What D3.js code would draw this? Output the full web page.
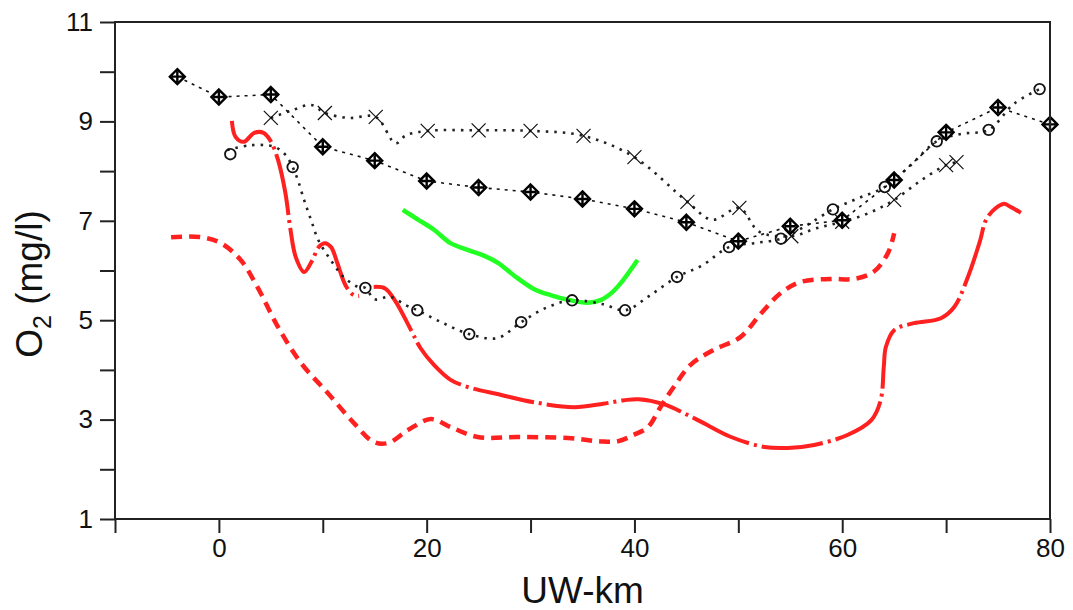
<!DOCTYPE html>
<html>
<head>
<meta charset="utf-8">
<script src="https://cdn.jsdelivr.net/npm/d3@7"></script>
<style>
  body { margin: 0; background: #fff; }
  svg { display: block; }
  .axis text { font-family: "Liberation Sans", Arial, sans-serif; font-size: 26px; fill: #111; }
  .axis line { stroke: #222; stroke-width: 2; }
  .title { font-family: "Liberation Sans", Arial, sans-serif; font-size: 37px; fill: #111; }
</style>
</head>
<body>
<div id="wrapper"></div>
<script>
// diamond-with-cross stations, fine dashed line
const diamondKm = [-4, 0, 5, 10, 15, 20, 25, 30, 35, 40, 45, 50, 55, 60, 65, 70, 75, 80];
const diamondO2 = [9.9, 9.49, 9.54, 8.49, 8.21, 7.8, 7.67, 7.58, 7.44, 7.24, 6.97, 6.59, 6.89, 7.01, 7.82, 8.78, 9.28, 8.94];

// x-marker stations and their dotted trace
const crossKm = [5, 10.2, 15.1, 20.1, 25, 30, 35.1, 40, 45.1, 50.1, 55.1, 60, 65, 70, 71];
const crossO2 = [9.07, 9.17, 9.09, 8.81, 8.82, 8.81, 8.71, 8.28, 7.38, 7.26, 6.69, 6.98, 7.42, 8.12, 8.18];
const crossLineKm = [5, 7, 8.9, 10.2, 12.5, 15.1, 17, 18, 20.1, 25, 30, 35.1, 40, 45.1, 47.5, 50.1, 52, 55.1, 57.5, 60, 62.5, 65, 67.5, 70, 71];
const crossLineO2 = [9.07, 9.22, 9.33, 9.17, 9.07, 9.09, 8.56, 8.72, 8.81, 8.82, 8.81, 8.71, 8.28, 7.38, 7.02, 7.26, 6.78, 6.69, 6.85, 6.98, 7.15, 7.42, 7.8, 8.12, 8.18];

// circle stations and their dotted trace
const circleKm = [1.1, 7.1, 14.1, 19.1, 24.1, 29.1, 34, 39.1, 44.1, 49.1, 54.1, 59.1, 64.1, 69.1, 74.1, 79];
const circleO2 = [8.34, 8.08, 5.65, 5.2, 4.72, 4.96, 5.4, 5.2, 5.87, 6.47, 6.64, 7.23, 7.68, 8.6, 8.83, 9.65];
const circleLineKm = [0.8, 3, 5.3, 6.4, 7.1, 7.6, 8.2, 8.9, 9.6, 10.8, 12, 13.4, 14.1, 15, 16.5, 18, 19.1, 21.5, 24.1, 26.8, 29.1, 31.5, 34, 37, 39.1, 41.5, 44.1, 46.5, 49.1, 51.5, 54.1, 56.5, 59.1, 61.5, 64.1, 66.5, 69.1, 71.5, 74.1, 76.5, 79];
const circleLineO2 = [8.42, 8.52, 8.49, 8.33, 8.08, 7.82, 7.42, 7.0, 6.6, 6.2, 5.87, 5.67, 5.65, 5.42, 5.47, 5.3, 5.2, 4.95, 4.72, 4.64, 4.96, 5.25, 5.4, 5.32, 5.2, 5.5, 5.87, 6.1, 6.47, 6.55, 6.64, 6.9, 7.23, 7.45, 7.68, 8.1, 8.6, 8.75, 8.83, 9.35, 9.65];

// red dash-dot profile (two pieces)
const redDotKmA = [1.25, 1.6, 2.4, 3.4, 4.3, 5.0, 5.7, 6.4, 6.9, 7.4, 8.2, 9.0, 9.6, 10.2, 10.8, 11.4, 12.2, 13.0, 13.5];
const redDotO2A = [9.01, 8.69, 8.59, 8.77, 8.77, 8.6, 8.22, 7.56, 6.81, 6.27, 5.97, 6.21, 6.47, 6.55, 6.47, 6.15, 5.7, 5.5, 5.49];
const redDotKmB = [14.9, 16, 17, 18.5, 19.4, 20.7, 22.3, 23.9, 27.1, 30.3, 34.2, 37, 39, 40.4, 42.8, 46.1, 49.3, 52.5, 54.8, 57.3, 60.5, 62.8, 63.7, 64, 64.2, 65, 66.9, 69.5, 70.8, 72.1, 73.2, 74, 75.5, 76.2, 77.2];
const redDotO2B = [5.67, 5.64, 5.38, 4.8, 4.44, 4.1, 3.8, 3.66, 3.5, 3.35, 3.25, 3.32, 3.39, 3.41, 3.31, 2.99, 2.65, 2.45, 2.43, 2.49, 2.69, 2.99, 3.39, 4.06, 4.46, 4.8, 4.94, 5.04, 5.27, 5.87, 6.55, 7.08, 7.34, 7.28, 7.16];

// red dashed profile
const redDashKm = [-4.6, -1.7, 0.2, 2.1, 3.7, 5.7, 7.9, 10.5, 13, 14.9, 16.3, 18.2, 20.4, 22.3, 24.9, 28.8, 33.6, 36.8, 38.5, 39.9, 41.3, 42.5, 43.8, 45.4, 47.6, 50.2, 52.2, 54.1, 56, 58.9, 61.1, 63, 64.4, 65];
const redDashO2 = [6.67, 6.67, 6.55, 6.21, 5.67, 4.86, 4.14, 3.53, 2.93, 2.55, 2.53, 2.79, 3.01, 2.85, 2.65, 2.65, 2.63, 2.56, 2.57, 2.69, 2.85, 3.25, 3.66, 4.1, 4.4, 4.66, 5.14, 5.55, 5.77, 5.83, 5.83, 5.97, 6.35, 6.75];

// green solid profile
const greenKm = [17.7, 19.2, 20.7, 22.3, 24, 25.5, 26.9, 28.4, 30.3, 32, 33.6, 35.5, 36.8, 37.8, 38.7, 40.3];
const greenO2 = [7.22, 7.02, 6.82, 6.55, 6.41, 6.3, 6.15, 5.9, 5.63, 5.5, 5.41, 5.35, 5.41, 5.55, 5.75, 6.21];

const xTicks = [-10, 0, 10, 20, 30, 40, 50, 60, 70, 80];
const xLabels = [0, 20, 40, 60, 80];
const yTicks = [1, 2, 3, 4, 5, 6, 7, 8, 9, 10, 11];
const yLabels = [1, 3, 5, 7, 9, 11];

const zip = (xs, ys) => xs.map((x, i) => ({ x, y: ys[i] }));

const dimensions = {
    width: 1073,
    height: 610,
    margin: { top: 22, right: 23, bottom: 91, left: 115 }
};
dimensions.boundWidth = dimensions.width - dimensions.margin.left - dimensions.margin.right;
dimensions.boundHeight = dimensions.height - dimensions.margin.top - dimensions.margin.bottom;

const svg = d3.select('#wrapper')
    .append('svg')
    .attr('width', dimensions.width)
    .attr('height', dimensions.height);

const bounds = svg.append('g')
    .attr('transform', `translate(${dimensions.margin.left},${dimensions.margin.top})`);

const xScale = d3.scaleLinear().domain([-10, 80]).range([0, dimensions.boundWidth]);
const yScale = d3.scaleLinear().domain([1, 11]).range([dimensions.boundHeight, 0]);

const smooth = d3.line().x(d => xScale(d.x)).y(d => yScale(d.y)).curve(d3.curveCatmullRom.alpha(0.5));
const straight = d3.line().x(d => xScale(d.x)).y(d => yScale(d.y));

const plot = bounds.append('g');

// red dashed
plot.append('path')
    .attr('d', smooth(zip(redDashKm, redDashO2)))
    .attr('fill', 'none').attr('stroke', '#ff2020').attr('stroke-width', 4.5)
    .attr('stroke-dasharray', '11,7');

// red dash-dot
[zip(redDotKmA, redDotO2A), zip(redDotKmB, redDotO2B)].forEach(seg => {
    plot.append('path')
        .attr('d', smooth(seg))
        .attr('fill', 'none').attr('stroke', '#ff2020').attr('stroke-width', 4)
        .attr('stroke-dasharray', '62,5,3,5');
});

// green
plot.append('path')
    .attr('d', smooth(zip(greenKm, greenO2)))
    .attr('fill', 'none').attr('stroke', '#22ff22').attr('stroke-width', 4.5);

// circle series dotted
plot.append('path')
    .attr('d', smooth(zip(circleLineKm, circleLineO2)))
    .attr('fill', 'none').attr('stroke', '#222').attr('stroke-width', 2.6)
    .attr('stroke-dasharray', '2.5,6');

// cross series dotted
plot.append('path')
    .attr('d', smooth(zip(crossLineKm, crossLineO2)))
    .attr('fill', 'none').attr('stroke', '#222').attr('stroke-width', 2.6)
    .attr('stroke-dasharray', '2.5,6');

// diamond series fine dashes
plot.append('path')
    .attr('d', straight(zip(diamondKm, diamondO2)))
    .attr('fill', 'none').attr('stroke', '#111').attr('stroke-width', 1.6)
    .attr('stroke-dasharray', '3,5');

// markers
plot.selectAll('.circ')
    .data(zip(circleKm, circleO2))
    .join('circle')
    .attr('cx', d => xScale(d.x)).attr('cy', d => yScale(d.y))
    .attr('r', 5.3).attr('fill', 'none').attr('stroke', '#111').attr('stroke-width', 1.8);

plot.selectAll('.cross')
    .data(zip(crossKm, crossO2))
    .join('path')
    .attr('d', d => {
        const cx = xScale(d.x), cy = yScale(d.y), s = 7;
        return `M${cx - s},${cy - s}L${cx + s},${cy + s}M${cx - s},${cy + s}L${cx + s},${cy - s}`;
    })
    .attr('stroke', '#111').attr('stroke-width', 1.2).attr('fill', 'none');

plot.selectAll('.diamond')
    .data(zip(diamondKm, diamondO2))
    .join('path')
    .attr('d', d => {
        const cx = xScale(d.x), cy = yScale(d.y), s = 7.5;
        return `M${cx},${cy - s}L${cx + s},${cy}L${cx},${cy + s}L${cx - s},${cy}Z` +
            `M${cx - s + 2},${cy}L${cx + s - 2},${cy}M${cx},${cy - s + 2}L${cx},${cy + s - 2}`;
    })
    .attr('stroke', '#000').attr('stroke-width', 2.4).attr('fill', '#fff');

// frame
bounds.append('rect')
    .attr('width', dimensions.boundWidth).attr('height', dimensions.boundHeight)
    .attr('fill', 'none').attr('stroke', '#222').attr('stroke-width', 2);

const xAxisGenerator = d3.axisBottom(xScale)
    .tickValues(xTicks)
    .tickSize(14)
    .tickPadding(6)
    .tickFormat(d => xLabels.includes(d) ? d : '');

bounds.append('g')
    .attr('class', 'axis')
    .attr('transform', `translate(0,${dimensions.boundHeight})`)
    .call(xAxisGenerator)
    .call(g => g.select('.domain').remove());

const yAxisGenerator = d3.axisLeft(yScale)
    .tickValues(yTicks)
    .tickSize(15)
    .tickPadding(7)
    .tickFormat(d => yLabels.includes(d) ? d : '');

bounds.append('g')
    .attr('class', 'axis')
    .call(yAxisGenerator)
    .call(g => g.select('.domain').remove());

svg.append('text')
    .attr('class', 'title')
    .attr('x', dimensions.margin.left + dimensions.boundWidth / 2)
    .attr('y', 603)
    .attr('text-anchor', 'middle')
    .text('UW-km');

const yTitle = svg.append('text')
    .attr('class', 'title')
    .attr('transform', 'translate(42,284) rotate(-90)')
    .attr('text-anchor', 'middle');
yTitle.append('tspan').text('O');
yTitle.append('tspan').attr('font-size', '25px').attr('dy', 9).text('2');
yTitle.append('tspan').attr('dy', -9).text(' (mg/l)');
</script>
</body>
</html>
